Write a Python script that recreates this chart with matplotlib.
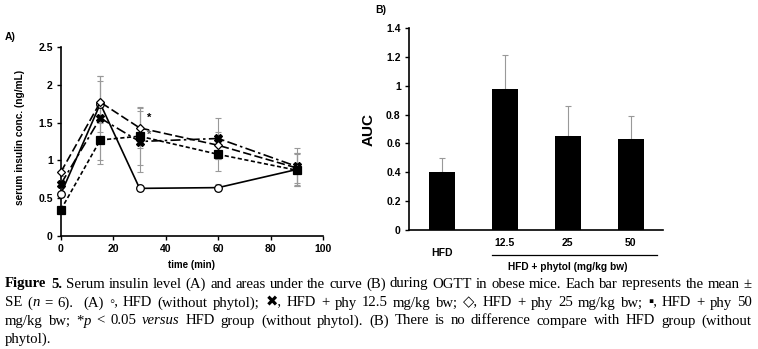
import matplotlib
matplotlib.use("Agg")
import matplotlib.pyplot as plt
import matplotlib.transforms as mtransforms
from matplotlib.font_manager import FontProperties, findfont
from matplotlib.ft2font import FT2Font

try:
    from matplotlib.ft2font import LoadFlags
    NO_HINT = LoadFlags.NO_HINTING
except ImportError:
    from matplotlib.ft2font import LOAD_NO_HINTING as NO_HINT

# panel A data: serum insulin (ng/mL) during OGTT
time = [0, 15, 30, 60, 90]
hfd = [0.56, 1.75, 0.63, 0.64, 0.88]
phy125 = [0.69, 1.56, 1.25, 1.29, 0.92]
phy25 = [0.85, 1.77, 1.43, 1.20, 0.90]
phy50 = [0.35, 1.27, 1.32, 1.08, 0.87]
hfd_se = [0.04, 0.37, 0.03, 0.05, 0.22]
phy125_se = [0.05, 0.56, 0.41, 0.27, 0.24]
phy25_se = [0.05, 0.28, 0.26, 0.18, 0.20]
phy50_se = [0.04, 0.32, 0.38, 0.22, 0.21]

# panel B data: AUC
groups = ["HFD", "12.5", "25", "50"]
auc = [0.40, 0.98, 0.65, 0.63]
auc_se = [0.10, 0.23, 0.21, 0.16]

W, H = 758, 349
fig = plt.figure(figsize=(W / 100, H / 100), dpi=100)
sans = {"family": "Liberation Sans", "weight": "bold"}
tick_fs = 7.5

def px_axes(l, t, r, b):
    return fig.add_axes([l / W, 1 - b / H, (r - l) / W, (b - t) / H])

# ---- panel A
axA = px_axes(61, 47, 323, 236)
series = [
    (hfd, hfd_se, "o", "white", "-"),
    (phy125, phy125_se, "X", "black", (0, (6, 2, 1.5, 2))),
    (phy25, phy25_se, "D", "white", (0, (5, 2))),
    (phy50, phy50_se, "s", "black", (0, (2.5, 1.5))),
]
for vals, se, mk, fc, ls in series:
    axA.errorbar(time, vals, yerr=se, fmt="none", ecolor="#999999",
                 elinewidth=0.8, capsize=2, capthick=0.8, zorder=1)
for vals, se, mk, fc, ls in series:
    ms = 4.5 if mk == "D" else 5.5
    axA.plot(time, vals, color="black", linestyle=ls, linewidth=1.2,
             marker=mk, markersize=ms, markerfacecolor=fc,
             markeredgecolor="black", markeredgewidth=0.9, zorder=3,
             clip_on=False)
axA.text(33, 1.52, "*", fontsize=8, **sans)
axA.text(33, 1.30, "*", fontsize=8, **sans, color="#555555")
axA.set_xlim(0, 100)
axA.set_ylim(0, 2.5)
axA.set_xticks([0, 20, 40, 60, 80, 100])
axA.set_yticks([0, 0.5, 1, 1.5, 2, 2.5])
axA.set_yticklabels(["0", "0.5", "1", "1.5", "2", "2.5"])
for s in ["top", "right"]:
    axA.spines[s].set_visible(False)
for s in ["left", "bottom"]:
    axA.spines[s].set_linewidth(1.2)
axA.tick_params(direction="out", length=3, width=1, labelsize=tick_fs, pad=3)
for lab in axA.get_xticklabels() + axA.get_yticklabels():
    lab.set_fontweight("bold")
    lab.set_family("Liberation Sans")
fig.text(20 / W, 1 - 137 / H, "serum insulin conc. (ng/mL)", rotation=90,
         ha="center", va="center", fontsize=7.3, **sans)
fig.text(192 / W, 1 - 265 / H, "time (min)", ha="center", va="center",
         fontsize=7, **sans)
fig.text(5 / W, 1 - 37 / H, "A)", fontsize=7.5, va="center", **sans)

# ---- panel B
axB = px_axes(409, 28, 663, 230)
xpos = list(range(len(groups)))
axB.bar(xpos, auc, width=0.41, color="black", zorder=2)
axB.errorbar(xpos, auc, yerr=[[0] * len(auc), auc_se], fmt="none",
             ecolor="#999999", elinewidth=0.8, capsize=2, capthick=0.8, zorder=1)
axB.set_xlim(-0.52, 3.51)
axB.set_ylim(0, 1.4)
axB.set_yticks([0, 0.2, 0.4, 0.6, 0.8, 1, 1.2, 1.4])
axB.set_yticklabels(["0", "0.2", "0.4", "0.6", "0.8", "1", "1.2", "1.4"])
axB.set_xticks([])
for s in ["top", "right"]:
    axB.spines[s].set_visible(False)
for s in ["left", "bottom"]:
    axB.spines[s].set_linewidth(1.2)
axB.tick_params(direction="out", length=3, width=1, labelsize=tick_fs, pad=3)
for lab in axB.get_yticklabels():
    lab.set_fontweight("bold")
    lab.set_family("Liberation Sans")
fig.text(369 / W, 1 - 130 / H, "AUC", rotation=90, ha="center", va="center",
         fontsize=11, **sans)
tr = mtransforms.blended_transform_factory(axB.transData, fig.transFigure)
for i, g in enumerate(groups):
    yy = 253 if i == 0 else 243
    axB.text(i, 1 - yy / H, g, transform=tr, ha="center", va="center",
             fontsize=tick_fs, **sans)
fig.add_artist(plt.Line2D([492 / W, 657 / W], [1 - 255 / H, 1 - 255 / H],
                          color="black", linewidth=0.9))
fig.text(568 / W, 1 - 267 / H, "HFD + phytol (mg/kg bw)", ha="center",
         va="center", fontsize=7.3, **sans)
fig.text(375 / W, 1 - 10 / H, "B)", fontsize=7.5, va="center", **sans)

# ---- caption, justified
serif = ["Liberation Serif", "DejaVu Sans"]
N, B, I = "n", "b", "i"

def w(*segs):
    return list(segs)

lines = [
    [w(("Figure", B)), w(("5.", B)), w(("Serum", N)), w(("insulin", N)), w(("level", N)),
     w(("(A)", N)), w(("and", N)), w(("areas", N)), w(("under", N)), w(("the", N)),
     w(("curve", N)), w(("(B)", N)), w(("during", N)), w(("OGTT", N)), w(("in", N)),
     w(("obese", N)), w(("mice.", N)), w(("Each", N)), w(("bar", N)), w(("represents", N)),
     w(("the", N)), w(("mean", N)), w(("\u00b1", N))],
    [w(("SE", N)), w(("(", N), ("n", I)), w(("=", N)), w(("6).", N)), w(("", N)), w(("(A)", N)),
     w(("\u25e6,", N)), w(("HFD", N)), w(("(without", N)), w(("phytol);", N)),
     w(("\u2716,", N)), w(("HFD", N)), w(("+", N)), w(("phy", N)), w(("12.5", N)),
     w(("mg/kg", N)), w(("bw;", N)), w(("\u25c7,", N)), w(("HFD", N)), w(("+", N)),
     w(("phy", N)), w(("25", N)), w(("mg/kg", N)), w(("bw;", N)), w(("\u25aa,", N)),
     w(("HFD", N)), w(("+", N)), w(("phy", N)), w(("50", N))],
    [w(("mg/kg", N)), w(("bw;", N)), w(("*", N), ("p", I)), w(("<", N)), w(("0.05", N)),
     w(("versus", I)), w(("HFD", N)), w(("group", N)), w(("(without", N)),
     w(("phytol).", N)), w(("(B)", N)), w(("There", N)), w(("is", N)), w(("no", N)),
     w(("difference", N)), w(("compare", N)), w(("with", N)), w(("HFD", N)),
     w(("group", N)), w(("(without", N))],
    [w(("phytol).", N))],
]
line_y = [284, 303, 321, 339]
left_px, right_px = 5, 752

# font files for advance-width measurement
fallback_path = findfont(FontProperties(family="DejaVu Sans"))
font_paths = {
    N: findfont(FontProperties(family="Liberation Serif")),
    B: findfont(FontProperties(family="Liberation Serif", weight="bold")),
    I: findfont(FontProperties(family="Liberation Serif", style="italic")),
}

def advance(s, st, fs):
    f = FT2Font(font_paths[st], hinting_factor=1)
    f.set_size(fs, 100)
    fb = FT2Font(fallback_path, hinting_factor=1)
    fb.set_size(fs, 100)
    total = 0.0
    for c in s:
        ff = f if f.get_char_index(ord(c)) else fb
        g = ff.load_char(ord(c), flags=NO_HINT)
        total += g.linearHoriAdvance / 65536
    return total

def make_text(s, st, x, y, fs):
    kw = dict(fontsize=fs, family=serif, va="center", ha="left", color="black")
    if st == B:
        kw["weight"] = "bold"
    if st == I:
        kw["style"] = "italic"
    return fig.text(x / W, 1 - y / H, s, **kw)

# caption size chosen so that the first line fills the width with plain spaces
base = 10
nat = sum(advance(s, st, base) for word in lines[0] for s, st in word)
nat += advance(" ", N, base) * (len(lines[0]) - 1)
cap_fs = base * (right_px - left_px) / nat
sp = advance(" ", N, cap_fs)

for li, (words, y) in enumerate(zip(lines, line_y)):
    widths = [[advance(s, st, cap_fs) for s, st in word] for word in words]
    total = sum(sum(ws) for ws in widths)
    if li < len(lines) - 1 and len(words) > 1:
        gap = (right_px - left_px - total) / (len(words) - 1)
    else:
        gap = sp
    x = left_px
    for word, ws in zip(words, widths):
        xx = x
        for (s, st), wd in zip(word, ws):
            if s:
                make_text(s, st, xx, y, cap_fs)
            xx += wd
        x += sum(ws) + gap

fig.savefig("out.png", dpi=100)
